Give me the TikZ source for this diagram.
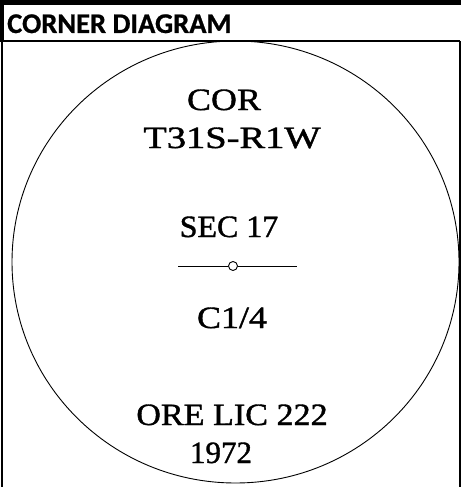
\documentclass[tikz,border=0pt]{standalone}
\usepackage{fontspec}
\setmainfont{Liberation Serif}[FakeBold=1.2]
\newfontfamily\headfont{Carlito}[FakeBold=0.8]
\begin{document}
\begin{tikzpicture}[x=1pt,y=-1pt,
  lbl/.style={anchor=base,inner sep=0pt,font=\fontsize{31}{33}\selectfont},
  hdr/.style={anchor=base west,inner sep=0pt,font=\headfont\bfseries\fontsize{28.5}{30}\selectfont},
  frame/.style={line width=2pt,draw=black}]
\useasboundingbox (0,0) rectangle (461,487);
% frame
\fill[black] (0,0) rectangle (461,5.5);
\fill[black] (0,0) rectangle (3.5,41);
\coordinate (hl) at (0,41);
\coordinate (hr) at (460,41);
\coordinate (bl) at (1.5,487);
\coordinate (br) at (459.5,487);
\draw[frame,line width=1.6pt] (hl) -- (hr);
\draw[frame] (1.5,0) -- (bl);
\draw[frame] (459.5,41) -- (br);
\node[hdr] (title) at (7,33) {CORNER DIAGRAM};
% big circle
\draw[line width=0.9pt] (235.5,262) ellipse [x radius=223.5pt, y radius=221pt];
% texts
\node[lbl] (cor) at (224,110) {\scalebox{1.16}[1]{COR}};
\node[lbl] (twp) at (232,148) {\scalebox{1.24}[1]{T31S-R1W}};
\node[lbl] (sec) at (229,237) {\scalebox{1.03}[1]{SEC 17}};
\node[lbl] (cq) at (232,328) {\scalebox{1.16}[1]{C1/4}};
\node[lbl] (ore) at (232,425) {\scalebox{1.10}[1]{ORE LIC 222}};
\node[lbl] (yr) at (221,463) {1972};
% corner mark
\node[circle,draw,line width=0.9pt,minimum size=9pt,inner sep=0pt] (mk) at (233,266) {};
\coordinate (ml) at (178,266);
\coordinate (mr) at (297,266);
\draw[line width=0.9pt] (ml) -- (mk.west);
\draw[line width=0.9pt] (mk.east) -- (mr);
\end{tikzpicture}
\end{document}
